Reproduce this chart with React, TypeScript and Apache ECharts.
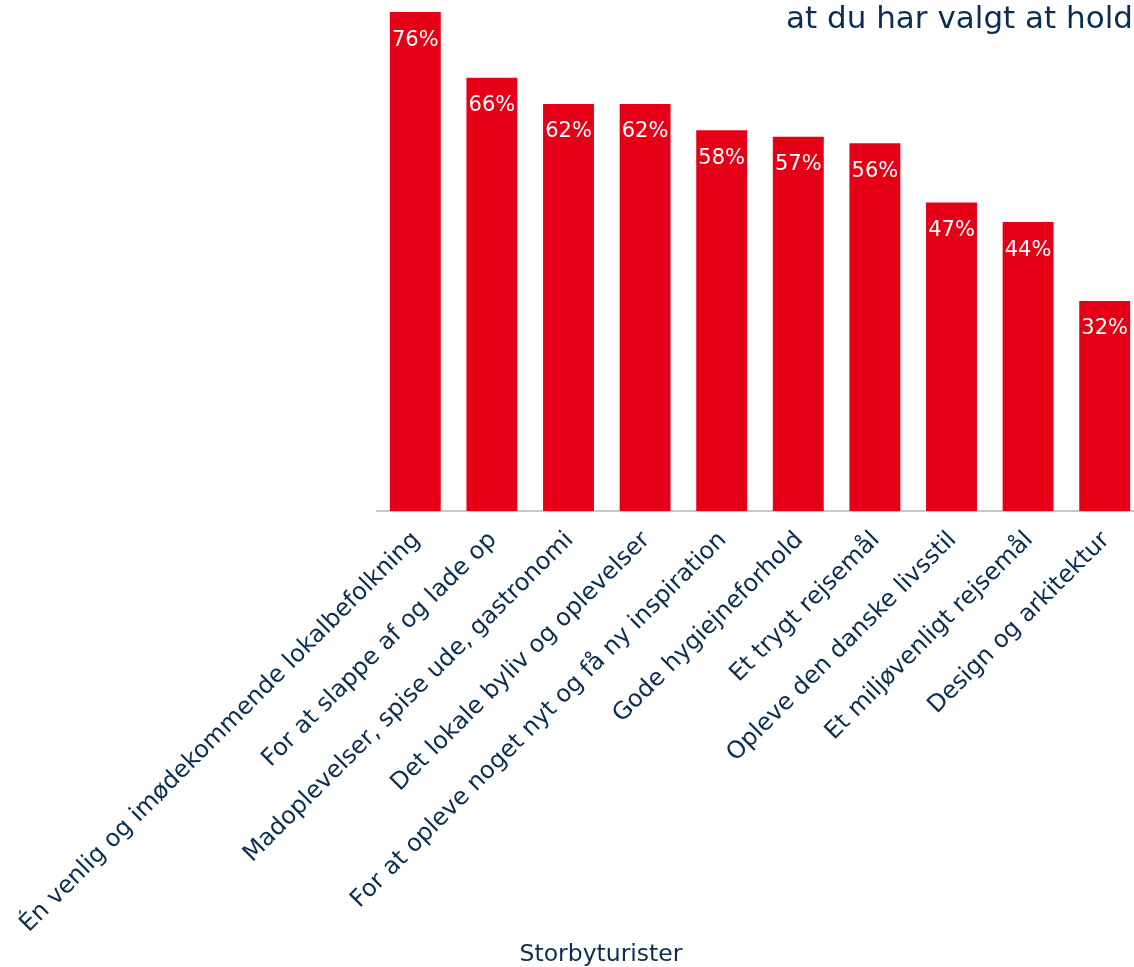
import React, { useEffect, useRef } from "react";
import * as echarts from "echarts";

const categories = [
  "Én venlig og imødekommende lokalbefolkning",
  "For at slappe af og lade op",
  "Madoplevelser, spise ude, gastronomi",
  "Det lokale byliv og oplevelser",
  "For at opleve noget nyt og få ny inspiration",
  "Gode hygiejneforhold",
  "Et trygt rejsemål",
  "Opleve den danske livsstil",
  "Et miljøvenligt rejsemål",
  "Design og arkitektur",
];
const values = [76, 66, 62, 62, 58, 57, 56, 47, 44, 32];
const seriesName = "Storbyturister";
const titleText = "at du har valgt at hold";

const NAVY = "#0b2d52";
const RED = "#e60017";
const FONT = "DejaVu Sans";

export default function App() {
  const ref = useRef<HTMLDivElement>(null);
  useEffect(() => {
    if (!ref.current) return;
    const chart = echarts.init(ref.current, undefined, { renderer: "svg" });
    chart.setOption({
      animation: false,
      grid: {
        left: 377,
        right: -9,
        top: 12,
        bottom: 456,
        containLabel: false,
        outerBoundsMode: "none",
      },
      xAxis: {
        type: "category",
        data: categories,
        axisLine: { show: true, lineStyle: { color: "#c8c8c8", width: 2 } },
        axisTick: { show: false },
        axisLabel: {
          interval: 0,
          rotate: 45,
          margin: 24,
          color: NAVY,
          fontSize: 24,
          fontFamily: FONT,
        },
      },
      yAxis: {
        type: "value",
        min: 0,
        max: 76,
        show: false,
        splitLine: { show: false },
      },
      graphic: [
        {
          type: "text",
          right: 1,
          top: 1,
          style: {
            text: titleText,
            fill: NAVY,
            fontSize: 31,
            fontWeight: 500,
            fontFamily: FONT,
          },
        },
        {
          type: "text",
          x: 601,
          y: 953,
          style: {
            text: seriesName,
            fill: NAVY,
            fontSize: 23.5,
            fontFamily: FONT,
            align: "center",
            verticalAlign: "middle",
          },
        },
      ],
      series: [
        {
          type: "bar",
          name: seriesName,
          data: values,
          barCategoryGap: "33.5%",
          itemStyle: { color: RED },
          label: {
            show: true,
            position: "insideTop",
            distance: 16,
            color: "#ffffff",
            fontSize: 21,
            fontFamily: FONT,
            formatter: (p: any) => `${p.value}%`,
          },
        },
      ],
    });
    return () => chart.dispose();
  }, []);
  return (
    <div
      ref={ref}
      style={{ position: "fixed", left: 0, top: 0, width: 1134, height: 967 }}
    />
  );
}
